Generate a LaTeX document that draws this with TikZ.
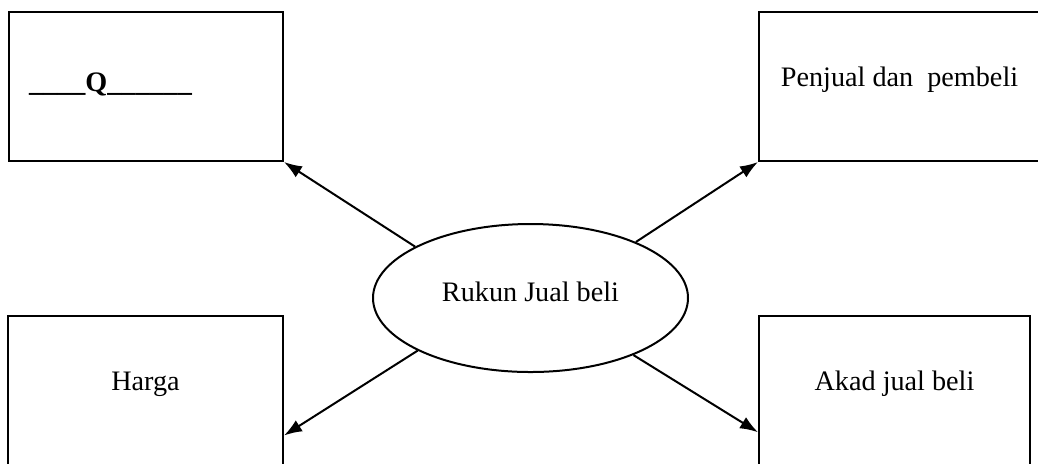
\documentclass[tikz,border=0pt]{standalone}
\usepackage{fontspec}
\setmainfont{Liberation Serif}
\usetikzlibrary{shapes,arrows.meta}
\tikzset{>={Latex[length=9pt,width=6.5pt]}}

\begin{document}
\begin{tikzpicture}[x=0.5pt, y=-0.5pt, font=\fontsize{14.1}{17}\selectfont]
  \tikzset{kotak/.style={rectangle, draw, line width=1pt, minimum height=74.5pt, %%
      inner sep=0pt, text height=0.7em, text depth=0.7em}}
  \tikzset{panah/.style={->, line width=1pt}}

  \useasboundingbox (0,0) rectangle (1038,463);
  \clip (0,0) rectangle (1038,463);

  \node[kotak, minimum width=137pt, text width=117pt, align=left, %%
    text height=0.8em, text depth=0.27em] (q) at (146,86.5) %%
  {\textbf{\_\_\_\_Q\_\_\_\_\_\_}};
  \node[kotak, minimum width=140.5pt] (penjual) at (899.5,86.5) {Penjual dan~ pembeli};
  \node[kotak, minimum width=137.5pt] (harga) at (145.5,390.5) {Harga};
  \node[kotak, minimum width=135.5pt] (akad) at (894.5,390.5) {Akad jual beli};

  \node[ellipse, draw, line width=1pt, minimum width=157.5pt, minimum height=74pt, %%
    inner sep=0pt, text height=0.7em, text depth=0.35em] (rukun) at (530.5,298) %%
  {Rukun Jual beli};

  \draw[panah] (rukun.156) -- (q.south east);
  \draw[panah] (rukun.28) -- (penjual.south west);
  \draw[panah] (rukun.205) -- (harga.-18);
  \draw[panah] (rukun.331) -- (akad.197);
\end{tikzpicture}
\end{document}
